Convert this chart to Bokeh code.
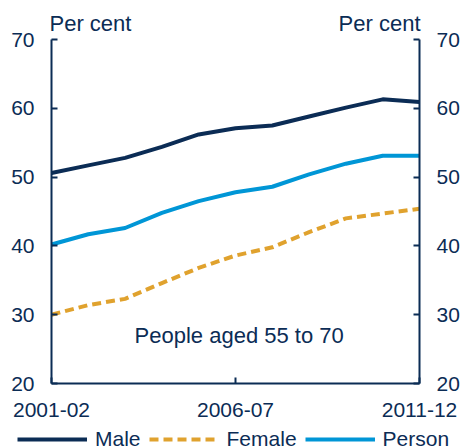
from bokeh.plotting import figure
from bokeh.models import (LinearAxis, FixedTicker, Label, Legend, LegendItem, Range1d)
from bokeh.embed import file_html
from bokeh.resources import INLINE

years = ["2001-02", "2002-03", "2003-04", "2004-05", "2005-06", "2006-07",
         "2007-08", "2008-09", "2009-10", "2010-11", "2011-12"]
male = [50.6, 51.7, 52.8, 54.4, 56.2, 57.1, 57.5, 58.8, 60.1, 61.3, 60.9]
female = [30.0, 31.4, 32.3, 34.6, 36.8, 38.6, 39.8, 42.0, 44.0, 44.7, 45.4]
person = [40.2, 41.7, 42.6, 44.8, 46.5, 47.8, 48.6, 50.4, 51.95, 53.1, 53.1]
series_names = ["Male", "Female", "Person"]
x_ticks = [0, 5, 10]
x_tick_labels = ["2001-02", "2006-07", "2011-12"]
y_ticks = [20, 30, 40, 50, 60, 70]
unit_label = "Per cent"
note = "People aged 55 to 70"

NAVY = "#0B2C55"
GOLD = "#E0A22E"
BLUE = "#0096D6"
FONT = "Liberation Sans"

xs = list(range(len(years)))

# layout geometry (pixels)
W, H = 463, 447
PLOT_T = 39                # y=70 position
PLOT_L, PLOT_R = 51, 419   # x=0 and x=10 positions
PLOT_B = 383               # y=20 position
xpx = (PLOT_R - PLOT_L) / 10.0
ypx = (PLOT_B - PLOT_T) / 50.0
x_range = Range1d(-PLOT_L / xpx, 10 + (W - PLOT_R) / xpx)
y_range = Range1d(20 - (H - PLOT_B) / ypx, 70 + PLOT_T / ypx)

p = figure(width=W, height=H, output_backend="svg", toolbar_location=None,
           x_range=x_range, y_range=y_range,
           min_border_left=0, min_border_right=0, min_border_top=0,
           min_border_bottom=0)
p.outline_line_color = None
p.xgrid.visible = False
p.ygrid.visible = False
p.background_fill_color = "white"
p.border_fill_color = "white"

def style_axis(ax, standoff, size="21px"):
    ax.axis_line_color = NAVY
    ax.axis_line_width = 2
    ax.major_tick_line_color = NAVY
    ax.major_tick_line_width = 2
    ax.major_tick_in = 6
    ax.major_tick_out = 0
    ax.minor_tick_line_color = None
    ax.major_label_text_font = FONT
    ax.major_label_text_font_size = size
    ax.major_label_text_color = NAVY
    ax.major_label_standoff = standoff

xa = p.xaxis[0]
xa.ticker = FixedTicker(ticks=x_ticks)
xa.major_label_overrides = {t: l for t, l in zip(x_ticks, x_tick_labels)}
xa.fixed_location = 20
xa.bounds = (0, 10)
style_axis(xa, 19)

ya = p.yaxis[0]
ya.ticker = FixedTicker(ticks=y_ticks)
ya.fixed_location = 0
ya.bounds = (20, 70)
style_axis(ya, 17)

ra = LinearAxis(ticker=FixedTicker(ticks=y_ticks), fixed_location=10, bounds=(20, 70))
style_axis(ra, 17)
p.add_layout(ra, "right")

for xv, align, xo in [(0, "left", -2), (10, "right", 1)]:
    p.add_layout(Label(x=xv, y=70, text=unit_label, text_align=align,
                       text_baseline="alphabetic", x_offset=xo, y_offset=16,
                       text_font=FONT, text_font_size="22px", text_color=NAVY))

r_m = p.line(xs, male, line_color=NAVY, line_width=4)
r_f = p.line(xs, female, line_color=GOLD, line_width=4, line_dash="9 5")
r_p = p.line(xs, person, line_color=BLUE, line_width=4)

p.add_layout(Label(x=5.1, y=27.0, text=note, text_align="center",
                   text_baseline="middle", text_font=FONT, text_font_size="22px",
                   text_color=NAVY))

legend = Legend(items=[LegendItem(label=n, renderers=[r])
                       for n, r in zip(series_names, [r_m, r_f, r_p])],
                orientation="horizontal", location=(17, -4),
                glyph_width=70, glyph_height=20, label_height=20,
                label_standoff=8, spacing=8, padding=0, margin=0,
                label_text_font=FONT, label_text_font_size="21px",
                label_text_color=NAVY, background_fill_alpha=0,
                border_line_color=None)
p.add_layout(legend, "center")

open("out.html", "w").write(file_html(p, INLINE))
